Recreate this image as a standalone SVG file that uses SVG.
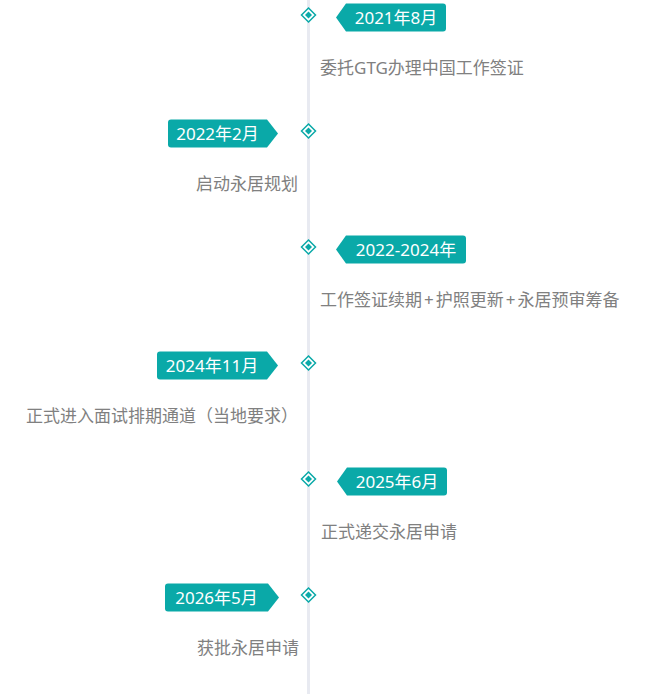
<svg xmlns="http://www.w3.org/2000/svg" width="645" height="694" viewBox="0 0 645 694">
<style>
.line{fill:#e8eaf1}
.dot-o{fill:#fff;stroke:#0aa9a8;stroke-width:1.5}
.dot-i{fill:#0aa9a8}
.badge{fill:#0aa9a8}
.bt{font-family:"Noto Sans","Noto Sans CJK SC",sans-serif;font-size:17px;fill:#fff;text-anchor:middle}
.desc{font-family:"Noto Sans","Noto Sans CJK SC",sans-serif;font-size:17px;fill:#808080}
.r{text-anchor:start}
.l{text-anchor:end}
</style>
<rect width="645" height="694" fill="#fff"/>
<g id="connectors">
<rect class="line" x="307" y="0" width="3" height="694"/>
</g>
<g id="e1">
<polygon class="dot-o" points="308.5,8 315.5,15 308.5,22 301.5,15"/>
<polygon class="dot-i" points="308.5,11.5 312,15 308.5,18.5 305,15"/>
<path class="badge" d="M336,17.5 L346,3.5 H443 Q446,3.5 446,6.5 V28.5 Q446,31.5 443,31.5 H346 Z"/>
<text class="bt" x="396" y="24">2021年8月</text>
<text class="desc r" x="320" y="74">委托GTG办理中国工作签证</text>
</g>
<g id="e2">
<polygon class="dot-o" points="308.5,124 315.5,131 308.5,138 301.5,131"/>
<polygon class="dot-i" points="308.5,127.5 312,131 308.5,134.5 305,131"/>
<path class="badge" d="M278,133.5 L267,147.5 H171 Q168,147.5 168,144.5 V122.5 Q168,119.5 171,119.5 H267 Z"/>
<text class="bt" x="217.5" y="140">2022年2月</text>
<text class="desc l" x="298" y="190">启动永居规划</text>
</g>
<g id="e3">
<polygon class="dot-o" points="308.5,240 315.5,247 308.5,254 301.5,247"/>
<polygon class="dot-i" points="308.5,243.5 312,247 308.5,250.5 305,247"/>
<path class="badge" d="M336,249.5 L346,235.5 H463 Q466,235.5 466,238.5 V260.5 Q466,263.5 463,263.5 H346 Z"/>
<text class="bt" x="406" y="256">2022-2024年</text>
<text class="desc r" x="320" y="306">工作签证续期<tspan dx="2">+</tspan><tspan dx="2">护照更新</tspan><tspan dx="2">+</tspan><tspan dx="2">永居预审筹备</tspan></text>
</g>
<g id="e4">
<polygon class="dot-o" points="308.5,356 315.5,363 308.5,370 301.5,363"/>
<polygon class="dot-i" points="308.5,359.5 312,363 308.5,366.5 305,363"/>
<path class="badge" d="M278,365.5 L267,379.5 H160 Q157,379.5 157,376.5 V354.5 Q157,351.5 160,351.5 H267 Z"/>
<text class="bt" x="212" y="372">2024年11月</text>
<text class="desc l" x="298" y="422">正式进入面试排期通道（当地要求）</text>
</g>
<g id="e5">
<polygon class="dot-o" points="308.5,472 315.5,479 308.5,486 301.5,479"/>
<polygon class="dot-i" points="308.5,475.5 312,479 308.5,482.5 305,479"/>
<path class="badge" d="M337,481.5 L347,467.5 H444 Q447,467.5 447,470.5 V492.5 Q447,495.5 444,495.5 H347 Z"/>
<text class="bt" x="397" y="488">2025年6月</text>
<text class="desc r" x="321" y="538">正式递交永居申请</text>
</g>
<g id="e6">
<polygon class="dot-o" points="308.5,588 315.5,595 308.5,602 301.5,595"/>
<polygon class="dot-i" points="308.5,591.5 312,595 308.5,598.5 305,595"/>
<path class="badge" d="M279,597.5 L268,611.5 H168 Q165,611.5 165,608.5 V586.5 Q165,583.5 168,583.5 H268 Z"/>
<text class="bt" x="216.5" y="604">2026年5月</text>
<text class="desc l" x="299" y="654">获批永居申请</text>
</g>
</svg>
